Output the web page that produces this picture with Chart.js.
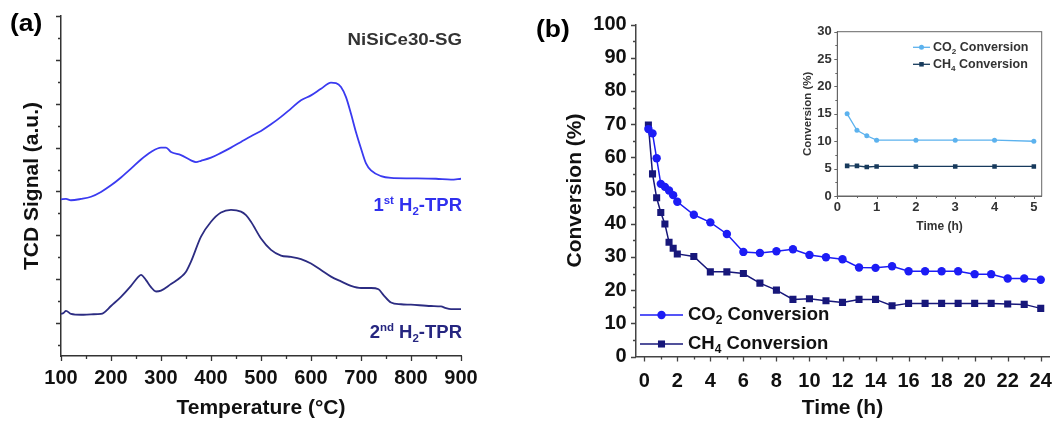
<!DOCTYPE html>
<html>
<head>
<meta charset="utf-8">
<script src="https://cdn.jsdelivr.net/npm/chart.js@4.4.1/dist/chart.umd.min.js"></script>
<style>
  body { margin: 0; background: #fff; }
  #fig { position: relative; width: 1054px; height: 421px; overflow: hidden; background: #fff;
         font-family: 'Liberation Sans', Arial, sans-serif; font-weight: bold; }
  canvas { position: absolute; }
  .lbl { position: absolute; white-space: nowrap; line-height: 1; }
  .lbl sup, .lbl sub { font-size: 0.62em; line-height: 0; vertical-align: 0; position: relative; }
  .lbl sup { top: -0.62em; }
  .lbl sub { top: 0.32em; }
</style>
</head>
<body>
<div id="fig">
  <canvas id="tprChart" width="480" height="421" style="left:0;top:0"></canvas>
  <canvas id="convChart" width="524" height="421" style="left:530px;top:0"></canvas>
  <canvas id="insetChart" width="252" height="220" style="left:795px;top:20px"></canvas>

  <div class="lbl" style="left:10px;top:12px;font-size:23px;transform:scaleX(1.15);transform-origin:left">(a)</div>
  <div class="lbl" style="right:592px;top:31px;font-size:17px;color:#333;transform:scaleX(1.1);transform-origin:right">NiSiCe30-SG</div>
  <div class="lbl" style="right:592px;top:196px;font-size:18.5px;color:#3030ee">1<sup>st</sup> H<sub>2</sub>-TPR</div>
  <div class="lbl" style="right:592px;top:323px;font-size:18.5px;color:#262680">2<sup>nd</sup> H<sub>2</sub>-TPR</div>
  <div class="lbl" style="left:536px;top:18px;font-size:23px;transform:scaleX(1.15);transform-origin:left">(b)</div>
</div>

<script>
const FONT = "'Liberation Sans', Arial, sans-serif";

// H2-TPR profiles (temperature in °C, signal in arbitrary units)
const tempFirst = [100, 110, 120, 140, 160, 180, 200, 220, 240, 260, 280, 300, 310, 320, 340, 360, 370, 380,
  400, 420, 440, 460, 480, 500, 520, 540, 560, 580, 600, 620, 640, 650, 660, 670, 680, 690, 700, 710,
  720, 740, 760, 800, 850, 880, 900];
const signalFirst = [2.82, 2.83, 2.80, 2.83, 2.88, 2.99, 3.14, 3.32, 3.52, 3.73, 3.90, 4.00, 4.00, 3.90, 3.83,
  3.71, 3.67, 3.70, 3.77, 3.88, 4.00, 4.13, 4.26, 4.38, 4.53, 4.70, 4.89, 5.08, 5.19, 5.34, 5.48, 5.47,
  5.38, 5.15, 4.77, 4.35, 3.98, 3.64, 3.48, 3.35, 3.31, 3.30, 3.29, 3.27, 3.29];
const tempSecond = [100, 105, 110, 120, 140, 160, 180, 185, 200, 220, 240, 255, 260, 270, 280, 290, 300, 320,
  340, 350, 360, 380, 400, 420, 440, 460, 470, 480, 500, 520, 540, 560, 580, 600, 620, 640, 660, 680,
  700, 720, 735, 745, 760, 780, 800, 840, 860, 870, 880, 900];
const signalSecond = [0.21, 0.23, 0.28, 0.21, 0.19, 0.20, 0.21, 0.23, 0.39, 0.60, 0.85, 1.06, 1.10, 0.98, 0.82,
  0.72, 0.74, 0.89, 1.05, 1.17, 1.40, 1.97, 2.31, 2.52, 2.58, 2.54, 2.46, 2.31, 1.93, 1.67, 1.54, 1.51,
  1.46, 1.36, 1.21, 1.06, 0.95, 0.85, 0.80, 0.80, 0.77, 0.64, 0.47, 0.43, 0.42, 0.39, 0.38, 0.34, 0.32, 0.32];

// 24 h stability test
const timeHours = [0.25, 0.5, 0.75, 1, 1.25, 1.5, 1.75, 2, 3, 4, 5, 6, 7, 8, 9, 10, 11, 12, 13, 14, 15, 16,
  17, 18, 19, 20, 21, 22, 23, 24];
const co2Conversion = [68.5, 67.2, 59.7, 52.0, 51.1, 50.0, 48.6, 46.6, 42.7, 40.4, 36.9, 31.5, 31.2, 31.7,
  32.3, 30.6, 29.9, 29.3, 26.8, 26.7, 27.2, 25.7, 25.7, 25.7, 25.7, 24.8, 24.8, 23.5, 23.5, 23.1];
const ch4Conversion = [69.7, 55.0, 47.8, 43.4, 39.9, 34.4, 32.6, 30.9, 30.1, 25.5, 25.5, 25.0, 22.1, 20.0,
  17.2, 17.4, 16.8, 16.3, 17.2, 17.2, 15.3, 16.0, 16.0, 16.0, 16.0, 16.0, 16.0, 15.8, 15.7, 14.5];

// first 5 h (inset)
const insetHours = [0.25, 0.5, 0.75, 1, 2, 3, 4, 5];
const insetCO2 = [15.0, 12.0, 11.0, 10.2, 10.2, 10.2, 10.2, 10.0];
const insetCH4 = [5.5, 5.5, 5.3, 5.4, 5.4, 5.4, 5.4, 5.4];

const toPoints = (xs, ys) => xs.map((x, i) => ({ x, y: ys[i] }));

Chart.defaults.font.family = FONT;
Chart.defaults.font.weight = 'bold';
Chart.defaults.color = '#111';
Chart.defaults.animation = false;

// draws text where ₀-₉ become small lowered digits
function drawRich(ctx, text, x, y, size) {
  let cx = x;
  ctx.textBaseline = 'middle';
  ctx.textAlign = 'left';
  for (const run of text.match(/[₀-₉]+|[^₀-₉]+/g)) {
    const sub = /[₀-₉]/.test(run);
    const t = sub ? run.replace(/[₀-₉]/g, c => String.fromCharCode(c.charCodeAt(0) - 0x2050)) : run;
    ctx.font = `bold ${sub ? size * 0.65 : size}px ${FONT}`;
    ctx.fillText(t, cx, sub ? y + size * 0.32 : y);
    cx += ctx.measureText(t).width;
  }
}

// major ticks on the library's tick values, minor ticks halfway between
const axisTicks = {
  id: 'axisTicks',
  afterDraw(chart, args, opts) {
    const { ctx, chartArea } = chart;
    ctx.save();
    ctx.strokeStyle = opts.color;
    ctx.lineWidth = opts.width;
    ctx.beginPath();
    for (const id of ['x', 'y']) {
      const scale = chart.scales[id];
      const values = scale.ticks.map(t => t.value);
      const half = (values[1] - values[0]) / 2;
      const marks = values.map(v => [v, opts.major]);
      for (let v = values[0] - half; v <= scale.max + 1e-9; v += 2 * half) {
        if (v >= scale.min - 1e-9) marks.push([v, opts.minor]);
      }
      for (const [v, len] of marks) {
        const p = Math.round(scale.getPixelForValue(v)) + 0.5;
        if (scale.isHorizontal()) {
          ctx.moveTo(p, chartArea.bottom);
          ctx.lineTo(p, chartArea.bottom + len);
        } else {
          ctx.moveTo(chartArea.left, p);
          ctx.lineTo(chartArea.left - len, p);
        }
      }
    }
    ctx.stroke();
    if (opts.frame) {
      ctx.strokeRect(chartArea.left, chartArea.top, chartArea.right - chartArea.left, chartArea.bottom - chartArea.top);
    }
    ctx.restore();
  }
};

// legend as line + marker + label, one row per dataset
const lineLegend = {
  id: 'lineLegend',
  afterDraw(chart, args, opts) {
    if (opts.x === undefined) return;
    const ctx = chart.ctx;
    chart.data.datasets.forEach((ds, i) => {
      const y = opts.y + i * opts.gap;
      ctx.save();
      ctx.strokeStyle = ds.borderColor;
      ctx.lineWidth = ds.borderWidth;
      ctx.beginPath();
      ctx.moveTo(opts.x, y);
      ctx.lineTo(opts.x + opts.length, y);
      ctx.stroke();
      ctx.fillStyle = ds.borderColor;
      Chart.helpers.drawPoint(ctx, { pointStyle: ds.pointStyle, radius: ds.pointRadius, rotation: 0, borderWidth: 0 },
        opts.x + opts.length / 2, y);
      ctx.fillStyle = opts.color;
      drawRich(ctx, ds.label, opts.x + opts.length + opts.textGap, y, opts.fontSize);
      ctx.restore();
    });
  }
};

// the label gap is carried by an invisible tick so it does not widen the edge padding
function axisOpts(o) {
  return {
    type: 'linear',
    min: o.min,
    max: o.max,
    grid: { display: true, drawOnChartArea: false, drawTicks: true, tickLength: o.pad || 0,
            tickColor: 'rgba(0,0,0,0)' },
    border: { display: true, color: o.axisColor, width: o.axisWidth },
    ticks: { display: o.labels !== false, stepSize: o.step, includeBounds: false, padding: 0,
             font: { size: o.tickSize }, color: o.tickColor || '#111' },
    title: { display: true, text: o.title, font: { size: o.titleSize }, color: o.tickColor || '#111',
             padding: o.titlePad },
    afterFit: o.width ? s => { s.width = o.width; } : s => { s.height = o.height; }
  };
}

new Chart(document.getElementById('tprChart'), {
  type: 'line',
  data: {
    datasets: [
      { label: '1st H2-TPR', data: toPoints(tempFirst, signalFirst), borderColor: '#3a3af0', borderWidth: 1.8,
        pointRadius: 0, cubicInterpolationMode: 'monotone' },
      { label: '2nd H2-TPR', data: toPoints(tempSecond, signalSecond), borderColor: '#2c2c82', borderWidth: 1.8,
        pointRadius: 0, cubicInterpolationMode: 'monotone' }
    ]
  },
  options: {
    responsive: false,
    events: [],
    layout: { padding: { left: 0, top: 16, right: 19, bottom: 0 } },
    plugins: { legend: { display: false }, tooltip: { enabled: false },
               axisTicks: { color: '#333', width: 1.3, major: 5, minor: 3 } },
    scales: {
      x: axisOpts({ min: 100, max: 900, step: 100, pad: 10.5, tickSize: 20, title: 'Temperature (°C)',
                    titleSize: 21, titlePad: { bottom: 0 }, height: 65, axisColor: '#333', axisWidth: 1.5 }),
      y: axisOpts({ min: -0.75, max: 7, step: 1, labels: false, title: 'TCD Signal (a.u.)', titleSize: 21,
                    titlePad: { top: 20 }, width: 61, axisColor: '#333', axisWidth: 1.5 })
    }
  },
  plugins: [axisTicks]
});

new Chart(document.getElementById('convChart'), {
  type: 'line',
  data: {
    datasets: [
      { label: 'CO₂ Conversion', data: toPoints(timeHours, co2Conversion), borderColor: '#1c1cf5',
        backgroundColor: '#1c1cf5', borderWidth: 1.5, pointStyle: 'circle', pointRadius: 4.2,
        pointBorderWidth: 0 },
      { label: 'CH₄ Conversion', data: toPoints(timeHours, ch4Conversion), borderColor: '#17177a',
        backgroundColor: '#17177a', borderWidth: 1.5, pointStyle: 'rect', pointRadius: 5,
        pointBorderWidth: 0 }
    ]
  },
  options: {
    responsive: false,
    events: [],
    layout: { padding: { left: 0, top: 24.5, right: 5, bottom: 0 } },
    plugins: { legend: { display: false }, tooltip: { enabled: false },
               axisTicks: { color: '#444', width: 1.3, major: 5, minor: 3 },
               lineLegend: { x: 110, y: 315, gap: 29, length: 43, textGap: 5, fontSize: 18.5, color: '#111' } },
    scales: {
      x: axisOpts({ min: -0.5, max: 24.5, step: 2, pad: 12.5, tickSize: 20, title: 'Time (h)', titleSize: 21,
                    titlePad: { bottom: 0 }, height: 64.5, axisColor: '#444', axisWidth: 1.5 }),
      y: axisOpts({ min: 0, max: 100, step: 10, pad: 9.3, tickSize: 20, title: 'Conversion (%)', titleSize: 21,
                    titlePad: { top: 33 }, width: 106, axisColor: '#444', axisWidth: 1.5 })
    }
  },
  plugins: [axisTicks, lineLegend]
});

new Chart(document.getElementById('insetChart'), {
  type: 'line',
  data: {
    datasets: [
      { label: 'CO₂ Conversion', data: toPoints(insetHours, insetCO2), borderColor: '#5cb2ee',
        backgroundColor: '#5cb2ee', borderWidth: 1.3, pointStyle: 'circle', pointRadius: 2.5,
        pointBorderWidth: 0 },
      { label: 'CH₄ Conversion', data: toPoints(insetHours, insetCH4), borderColor: '#173a5c',
        backgroundColor: '#173a5c', borderWidth: 1.3, pointStyle: 'rect', pointRadius: 3.2,
        pointBorderWidth: 0 }
    ]
  },
  options: {
    responsive: false,
    events: [],
    layout: { padding: { left: 0, top: 11.7, right: 5.3, bottom: 0 } },
    plugins: { legend: { display: false }, tooltip: { enabled: false },
               axisTicks: { color: '#666', width: 1, major: 3, minor: 2, frame: true },
               lineLegend: { x: 118, y: 27.3, gap: 17, length: 17, textGap: 3, fontSize: 12.5, color: '#333' } },
    scales: {
      x: axisOpts({ min: 0, max: 5.2, step: 1, pad: 3.5, tickSize: 13, tickColor: '#333', title: 'Time (h)',
                    titleSize: 12, titlePad: { bottom: 6 }, height: 44, axisColor: '#666', axisWidth: 1 }),
      y: axisOpts({ min: 0, max: 30, step: 5, pad: 5.6, tickSize: 13, tickColor: '#333', title: 'Conversion (%)',
                    titleSize: 11.5, titlePad: { top: 6 }, width: 42.3, axisColor: '#666', axisWidth: 1 })
    }
  },
  plugins: [axisTicks, lineLegend]
});
</script>
</body>
</html>
